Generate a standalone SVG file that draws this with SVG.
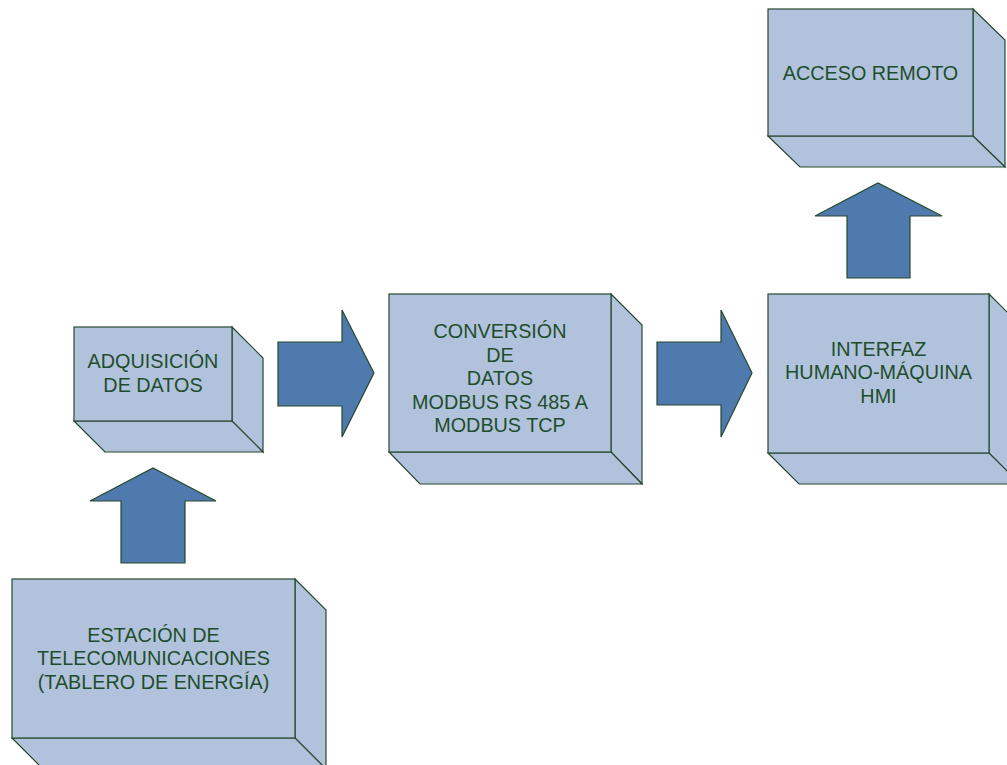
<svg xmlns="http://www.w3.org/2000/svg" width="1007" height="765" viewBox="0 0 1007 765">
  <style>
    .face { fill: #B1C3DC; stroke: #26482E; stroke-width: 1.2; stroke-linejoin: miter; }
    .arrow { fill: #4F7AAD; stroke: #26482E; stroke-width: 1.2; }
    .label { font-family: "Liberation Sans", Arial, sans-serif; font-size: 19.8px; fill: #1F4D2C; text-anchor: middle; }
  </style>
  <rect width="1007" height="765" fill="#FFFFFF"/>

  <!-- Connectors: block arrows between stages -->
  <g id="connectors">
    <polygon class="arrow" points="121,563 121,501 90,501 153,468 216,501 185,501 185,563"/>
    <polygon class="arrow" points="278,342 342,342 342,310 374,373 342,437 342,406 278,406"/>
    <polygon class="arrow" points="657,342 721,342 721,310 752,373 721,437 721,405 657,405"/>
    <polygon class="arrow" points="847,278 847,216 815,216 878,183 942,216 910,216 910,278"/>
  </g>

  <!-- Adquisición de datos -->
  <g id="adquisicion">
    <polygon class="face" points="232,327 263,358 263,452 232,421"/>
    <polygon class="face" points="74,421 232,421 263,452 105,452"/>
    <rect class="face" x="74" y="327" width="158" height="94"/>
    <text class="label" x="153" y="368">ADQUISICIÓN</text>
    <text class="label" x="153" y="391.5">DE DATOS</text>
  </g>

  <!-- Estación de telecomunicaciones -->
  <g id="estacion">
    <polygon class="face" points="295,579 326,610 326,769 295,738"/>
    <polygon class="face" points="12,738 295,738 326,769 43,769"/>
    <rect class="face" x="12" y="579" width="283" height="159"/>
    <text class="label" x="153.5" y="641.7">ESTACIÓN DE</text>
    <text class="label" x="153.5" y="665.2">TELECOMUNICACIONES</text>
    <text class="label" x="153.5" y="688.7">(TABLERO DE ENERGÍA)</text>
  </g>

  <!-- Conversión de datos -->
  <g id="conversion">
    <polygon class="face" points="611,294 642,325 642,484 611,452"/>
    <polygon class="face" points="389,452 611,452 642,484 420,484"/>
    <rect class="face" x="389" y="294" width="222" height="158"/>
    <text class="label" x="500" y="338">CONVERSIÓN</text>
    <text class="label" x="500" y="361.5">DE</text>
    <text class="label" x="500" y="385">DATOS</text>
    <text class="label" x="500" y="408.5">MODBUS RS 485 A</text>
    <text class="label" x="500" y="432">MODBUS TCP</text>
  </g>

  <!-- Interfaz humano-máquina -->
  <g id="interfaz">
    <polygon class="face" points="989,294 1020,325 1020,484 989,453"/>
    <polygon class="face" points="768,453 989,453 1020,484 799,484"/>
    <rect class="face" x="768" y="294" width="221" height="159"/>
    <text class="label" x="878.5" y="355.7">INTERFAZ</text>
    <text class="label" x="878.5" y="379.2">HUMANO-MÁQUINA</text>
    <text class="label" x="878.5" y="402.7">HMI</text>
  </g>

  <!-- Acceso remoto -->
  <g id="acceso">
    <polygon class="face" points="973,9 1005,40 1005,167 973,136"/>
    <polygon class="face" points="768,136 973,136 1005,167 800,167"/>
    <rect class="face" x="768" y="9" width="205" height="127"/>
    <text class="label" x="870.5" y="79.5">ACCESO REMOTO</text>
  </g>
</svg>
